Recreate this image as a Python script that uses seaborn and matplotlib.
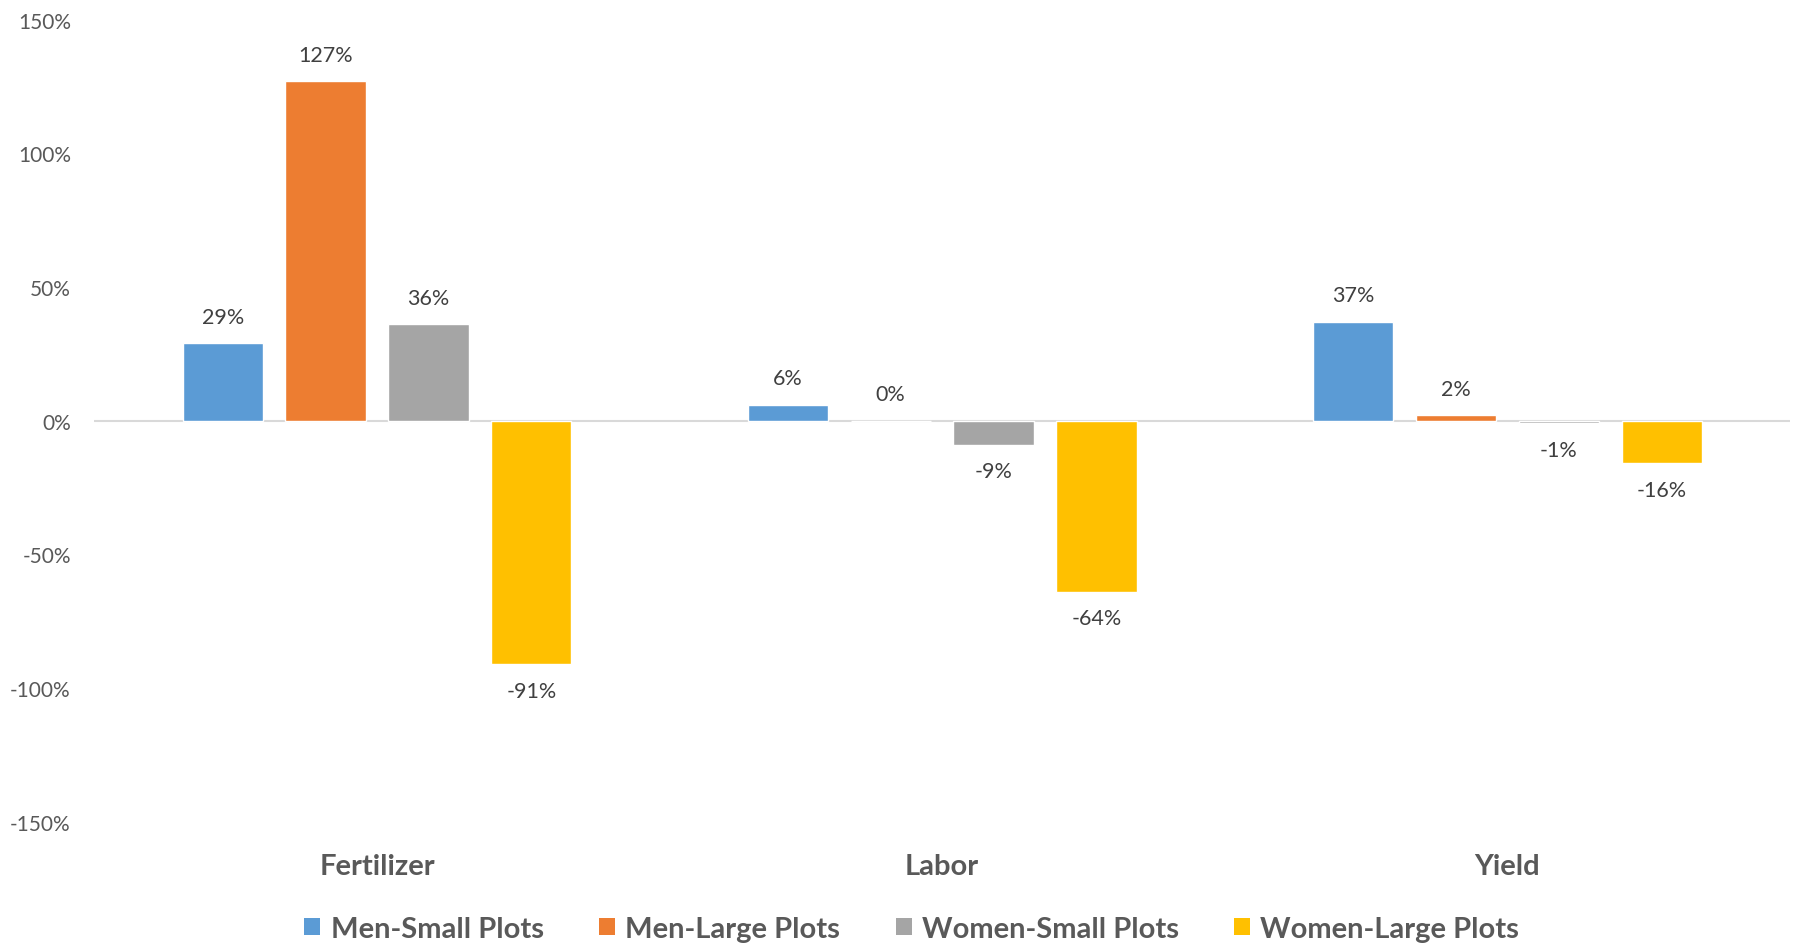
import matplotlib
matplotlib.use("Agg")
import matplotlib.pyplot as plt
import matplotlib.ticker as mticker
from matplotlib.patches import Patch
import seaborn as sns
import pandas as pd

# Percentage change by input/outcome for each farmer group
categories = ["Fertilizer", "Labor", "Yield"]
series = ["Men-Small Plots", "Men-Large Plots", "Women-Small Plots", "Women-Large Plots"]
men_small = [29, 6, 37]
men_large = [127, 0, 2]
women_small = [36, -9, -1]
women_large = [-91, -64, -16]
y_ticks = [-150, -100, -50, 0, 50, 100, 150]

colors = ["#5B9BD5", "#ED7D31", "#A5A5A5", "#FFC000"]

rows = []
for name, vals in zip(series, [men_small, men_large, women_small, women_large]):
    for cat, v in zip(categories, vals):
        rows.append({"category": cat, "group": name, "value": v})
df = pd.DataFrame(rows)

sns.set_theme(style="white")
plt.rcParams["font.family"] = ["Lato", "DejaVu Sans"]

fig = plt.figure(figsize=(18.02, 9.45), dpi=100)
ax = fig.add_axes([0.0524, 0.1294, 0.9409, 0.8487])

sns.barplot(
    data=df, x="category", y="value", hue="group",
    order=categories, hue_order=series, palette=colors,
    saturation=1, width=0.728, gap=0.22, legend=False, ax=ax,
    errorbar=None,
)

for cont in ax.containers:
    ax.bar_label(cont, labels=[f"{v:.0f}%" for v in cont.datavalues],
                 padding=12, fontsize=15.5, color="#404040")

ax.set_ylim(-150, 150)
ax.set_xlim(-0.5, 2.5)
ax.set_yticks(y_ticks)
ax.yaxis.set_major_formatter(mticker.FuncFormatter(lambda v, p: f"{v:.0f}%"))
ax.axhline(0, color="#D9D9D9", lw=1.5, zorder=0)

for s in ax.spines.values():
    s.set_visible(False)
ax.set_xlabel("")
ax.set_ylabel("")
ax.grid(False)
ax.tick_params(axis="y", length=0, pad=17, labelsize=15, labelcolor="#595959")
ax.tick_params(axis="x", length=0, pad=22.5, labelsize=21, labelcolor="#595959")
for t in ax.get_xticklabels():
    t.set_fontweight("bold")

handles = [Patch(facecolor=c, edgecolor="none", label=n) for c, n in zip(colors, series)]
leg = fig.legend(
    handles=handles, loc="center", bbox_to_anchor=(0.506, 0.016), ncol=4,
    frameon=False, handlelength=0.55, handleheight=0.55, handletextpad=0.35,
    columnspacing=1.9, prop={"size": 21, "weight": "bold"},
)
for t in leg.get_texts():
    t.set_color("#595959")

fig.savefig("out.png", dpi=100)
